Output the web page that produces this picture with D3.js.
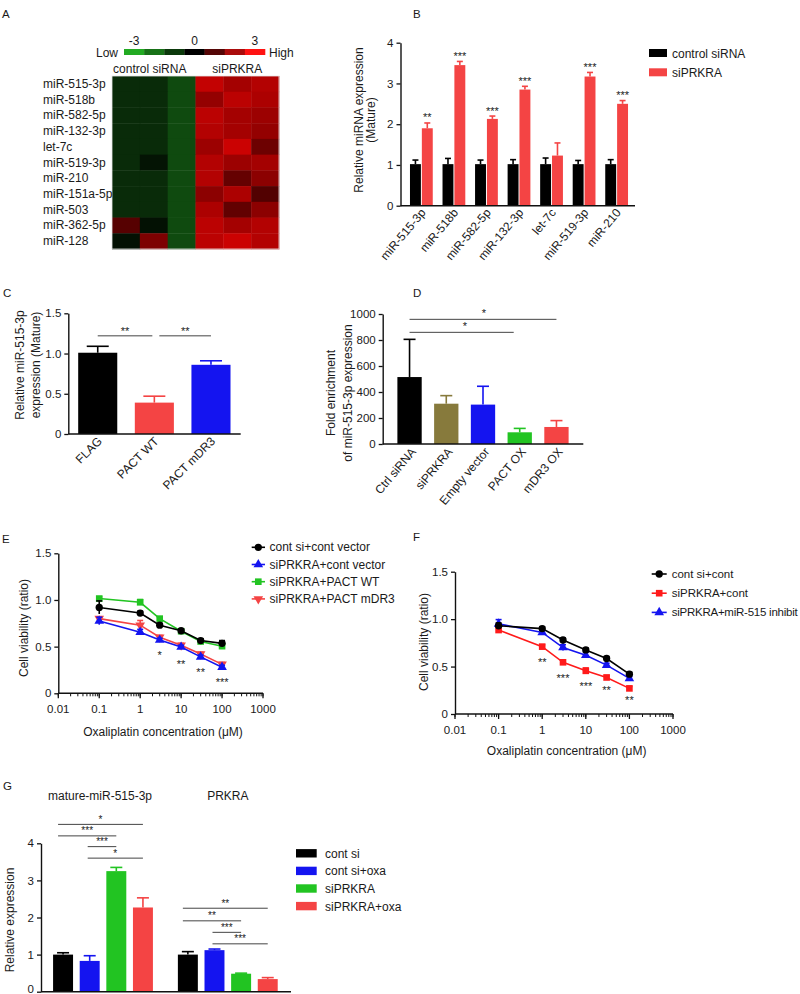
<!DOCTYPE html>
<html><head><meta charset="utf-8">
<script src="https://cdn.jsdelivr.net/npm/d3@7"></script>
<style>
body{margin:0;background:#fff}
text{font-family:"Liberation Sans",Arial,sans-serif;fill:#1a1a1a}
</style>
</head><body>
<svg id="c" width="800" height="994" xmlns="http://www.w3.org/2000/svg"></svg>
<script>
// ---------------- DATA ----------------
// Panel A heatmap
const heatRows = ["miR-515-3p","miR-518b","miR-582-5p","miR-132-3p","let-7c","miR-519-3p","miR-210","miR-151a-5p","miR-503","miR-362-5p","miR-128"];
const heatCols = ["control siRNA 1","control siRNA 2","control siRNA 3","siPRKRA 1","siPRKRA 2","siPRKRA 3"];
const heatValues = [
  [-0.75,-0.75,-1.3, 2.5,2.1,2.3],
  [-0.75,-0.75,-1.3, 1.9,2.4,2.2],
  [-0.75,-0.75,-1.3, 2.4,2.1,2.0],
  [-0.75,-0.75,-1.3, 2.3,2.1,1.9],
  [-0.75,-0.75,-1.3, 2.0,2.6,1.4],
  [-0.75,-0.35,-1.3, 2.3,2.0,2.1],
  [-0.75,-0.75,-1.3, 2.3,1.3,1.8],
  [-0.75,-0.75,-1.3, 1.8,2.2,1.05],
  [-0.75,-0.75,-1.3, 2.2,1.25,1.8],
  [1.1,-0.3,-1.3, 2.4,2.1,2.3],
  [-0.3,1.6,-1.3, 2.4,2.6,2.3]
];
const heatGroups = ["control siRNA","siPRKRA"];
const heatLegendSteps = [-3,-2,-1,0,1,2,3];
const heatLegendLabels = [-3,0,3];

// Panel B
const bCategories = ["miR-515-3p","miR-518b","miR-582-5p","miR-132-3p","let-7c","miR-519-3p","miR-210"];
const bSeries = ["control siRNA","siPRKRA"];
const bControl = [1.02,1.02,1.02,1.02,1.02,1.02,1.02];
const bControlErr = [0.10,0.14,0.10,0.11,0.15,0.09,0.11];
const bSi = [1.90,3.45,2.13,2.85,1.23,3.17,2.50];
const bSiErr = [0.13,0.09,0.07,0.08,0.31,0.10,0.08];
const bStars = ["**","***","***","***","","***","***"];
const bTicks = [0,1,2,3,4];

// Panel C
const cCategories = ["FLAG","PACT WT","PACT mDR3"];
const cValues = [1.01,0.39,0.86];
const cErr = [0.08,0.08,0.05];
const cSig = [{a:"FLAG",b:"PACT WT",y:1.22,label:"**"},{a:"PACT WT",b:"PACT mDR3",y:1.22,label:"**"}];
const cTicks = [0,0.5,1.0,1.5];

// Panel D
const dCategories = ["Ctrl siRNA","siPRKRA","Empty vector","PACT OX","mDR3 OX"];
const dValues = [515,310,303,90,131];
const dErr = [290,62,141,30,49];
const dSig = [{a:"Ctrl siRNA",b:"mDR3 OX",y:959,label:"*"},{a:"Ctrl siRNA",b:"PACT OX",y:859,label:"*"}];
const dTicks = [0,200,400,600,800,1000];

// Panel E
const eDoses = [0.1,1,3,10,30,100];
const eNames = ["cont si+cont vector","siPRKRA+cont vector","siPRKRA+PACT WT","siPRKRA+PACT mDR3"];
const eVals = [
  [0.92,0.86,0.73,0.67,0.565,0.535],
  [0.775,0.655,0.57,0.495,0.39,0.28],
  [1.015,0.975,0.80,0.665,0.555,0.505],
  [0.80,0.73,0.60,0.515,0.42,0.31]
];
const eErrs = [
  [0.07,0.02,0.02,0.02,0.02,0.03],
  [0.04,0.03,0.02,0.02,0.02,0.02],
  [0.02,0.03,0.02,0.02,0.02,0.02],
  [0.02,0.05,0.02,0.02,0.02,0.02]
];
const eStars = [{x:3,y:0.43,label:"*"},{x:10,y:0.34,label:"**"},{x:30,y:0.25,label:"**"},{x:100,y:0.14,label:"***"}];

// Panel F
const fNames = ["cont si+cont","siPRKRA+cont","siPRKRA+miR-515 inhibit"];
const fVals = [
  [0.93,0.90,0.78,0.675,0.585,0.42],
  [0.885,0.71,0.545,0.455,0.385,0.27],
  [0.95,0.86,0.70,0.62,0.515,0.375]
];
const fErrs = [
  [0.03,0.02,0.02,0.02,0.02,0.02],
  [0.03,0.02,0.02,0.03,0.02,0.02],
  [0.045,0.02,0.03,0.03,0.02,0.02]
];
const fStars = [{x:1,y:0.57,label:"**"},{x:3,y:0.40,label:"***"},{x:10,y:0.32,label:"***"},{x:30,y:0.27,label:"**"},{x:100,y:0.165,label:"**"}];
const logTicks = [0.01,0.1,1,10,100,1000];
const logTickLabels = ["0.01","0.1","1","10","100","1000"];
const viabTicks = [0,0.5,1.0,1.5];

// Panel G
const gGroups = ["mature-miR-515-3p","PRKRA"];
const gSeries = ["cont si","cont si+oxa","siPRKRA","siPRKRA+oxa"];
const gValues = [[1.0,0.83,3.25,2.27],[1.0,1.12,0.485,0.34]];
const gErr = [[0.05,0.14,0.10,0.26],[0.08,0.03,0.015,0.04]];
const gSig = [
  {g:0,a:0,b:3,y:4.51,label:"*"},{g:0,a:0,b:2,y:4.20,label:"***"},
  {g:0,a:1,b:2,y:3.91,label:"***"},{g:0,a:1,b:3,y:3.60,label:"*"},
  {g:1,a:0,b:3,y:2.25,label:"**"},{g:1,a:0,b:2,y:1.91,label:"**"},
  {g:1,a:1,b:2,y:1.60,label:"***"},{g:1,a:1,b:3,y:1.29,label:"***"}
];
const gTicks = [0,1,2,3,4];

// ---------------- STYLE ----------------
const BLACK="#000000", RED="#f44444", BLUE="#1414f0", GREEN="#22c422", OLIVE="#877a3c";
const svg = d3.select("#c");
svg.append("rect").attr("width",800).attr("height",994).attr("fill","#fff");
const FS = 11.5;
const fmt1 = d => d===0 ? "0" : d3.format(".1f")(d);

function panelLetter(t,x,y){ svg.append("text").attr("x",x).attr("y",y).attr("font-size",11.5).text(t); }
function styleAxis(g){
  g.selectAll("path.domain").attr("stroke","#111").attr("stroke-width",1.4);
  g.selectAll(".tick line").attr("stroke","#111").attr("stroke-width",1.3);
  g.selectAll(".tick text").attr("font-size",FS).attr("font-family","Liberation Sans, Arial, sans-serif").attr("fill","#1a1a1a");
}
function yAxis(scale,x,ticks,fmt){
  const g = svg.append("g").attr("transform",`translate(${x},0)`)
    .call(d3.axisLeft(scale).tickValues(ticks).tickFormat(fmt).tickSize(4).tickSizeOuter(0).tickPadding(3));
  styleAxis(g); return g;
}
function xLine(x1,x2,y){ svg.append("line").attr("x1",x1).attr("x2",x2).attr("y1",y).attr("y2",y).attr("stroke","#111").attr("stroke-width",1.4); }
function yTitle(lines,x,cy,dx){
  lines.forEach((l,i)=>svg.append("text").attr("transform",`translate(${x+i*dx},${cy}) rotate(-90)`)
    .attr("text-anchor","middle").attr("font-size",12).text(l));
}
function errBar(x,y0,y1,capW,color){
  svg.append("line").attr("x1",x).attr("x2",x).attr("y1",y0).attr("y2",y1).attr("stroke",color).attr("stroke-width",1.6);
  svg.append("line").attr("x1",x-capW/2).attr("x2",x+capW/2).attr("y1",y1).attr("y2",y1).attr("stroke",color).attr("stroke-width",1.6);
}
function star(x,y,label,fs){
  svg.append("text").attr("x",x).attr("y",y).attr("text-anchor","middle").attr("font-size",fs||11).text(label);
}
function rotLabel(x,y,t,angle){
  svg.append("text").attr("transform",`translate(${x},${y}) rotate(${angle})`).attr("text-anchor","end").attr("font-size",12).text(t);
}

// ---------------- PANEL A ----------------
panelLetter("A",2,18);
const hx = d3.scaleBand().domain(heatCols).range([112,279]);
const hy = d3.scaleBand().domain(heatRows).range([76,249]);
const hcolor = d3.scaleLinear().domain([-3,0,3]).range(["#22aa22","#000000","#ff1212"]);
const hcellColor = d3.scaleLinear().domain([-3,0,3]).range(["#22aa22","#000000","#ea0202"]);
heatRows.forEach((r,i)=>heatCols.forEach((c,j)=>{
  svg.append("rect").attr("x",hx(c)).attr("y",hy(r)).attr("width",hx.bandwidth()+0.4).attr("height",hy.bandwidth()+0.4)
    .attr("fill",hcellColor(heatValues[i][j]));
}));
svg.append("rect").attr("x",112).attr("y",76).attr("width",167).attr("height",173).attr("fill","none").attr("stroke","#e6e6e6").attr("stroke-width",0.8);
heatRows.forEach(r=>svg.append("text").attr("x",43).attr("y",hy(r)+hy.bandwidth()/2+4).attr("font-size",12).text(r));
const hg = d3.scaleBand().domain(heatGroups).range([112,279]);
heatGroups.forEach(g=>svg.append("text").attr("x",hg(g)+hg.bandwidth()/2-(g==="control siRNA"?4:0)).attr("y",73).attr("text-anchor","middle").attr("font-size",12).text(g));
const lx = d3.scaleBand().domain(heatLegendSteps).range([124,265]);
heatLegendSteps.forEach(s=>svg.append("rect").attr("x",lx(s)).attr("y",49).attr("width",lx.bandwidth()+0.3).attr("height",6).attr("fill",hcolor(s)));
heatLegendLabels.forEach(s=>svg.append("text").attr("x",lx(s)+lx.bandwidth()/2).attr("y",45).attr("text-anchor","middle").attr("font-size",12).text(s));
svg.append("text").attr("x",118).attr("y",56.5).attr("text-anchor","end").attr("font-size",12).text("Low");
svg.append("text").attr("x",269).attr("y",56.5).attr("font-size",12).text("High");

// ---------------- PANEL B ----------------
panelLetter("B",413,18);
const bx0 = d3.scaleBand().domain(bCategories).range([402,636]).paddingInner(0.3).paddingOuter(0.245);
const bx1 = d3.scaleBand().domain(bSeries).range([0,bx0.bandwidth()]).paddingInner(0.08);
const by = d3.scaleLinear().domain([0,4]).range([205.7,42.7]);
bCategories.forEach((c,i)=>{
  const xs=[bx0(c)+bx1("control siRNA"), bx0(c)+bx1("siPRKRA")];
  const vals=[bControl[i],bSi[i]], errs=[bControlErr[i],bSiErr[i]], cols=[BLACK,RED];
  vals.forEach((v,k)=>{
    svg.append("rect").attr("x",xs[k]).attr("y",by(v)).attr("width",bx1.bandwidth()).attr("height",by(0)-by(v)).attr("fill",cols[k]);
    errBar(xs[k]+bx1.bandwidth()/2,by(v),by(v+errs[k]),6,cols[k]);
  });
  if(bStars[i]) star(xs[1]+bx1.bandwidth()/2,by(bSi[i]+bSiErr[i])-1.5,bStars[i],11);
  rotLabel(bx0(c)+bx0.bandwidth()/2+5,213,c,-50);
});
yAxis(by,400.5,bTicks,d3.format("d"));
xLine(400.5,635,205.7);
yTitle(["Relative miRNA expression","(Mature)"],363,120,12);
bSeries.forEach((s,i)=>{
  svg.append("rect").attr("x",649).attr("y",49+i*19.3).attr("width",18).attr("height",8).attr("fill",[BLACK,RED][i]);
  svg.append("text").attr("x",672).attr("y",57.5+i*19.3).attr("font-size",12).text(s);
});

// ---------------- PANEL C ----------------
panelLetter("C",3,297);
const cx = d3.scaleBand().domain(cCategories).range([68,240.7]).paddingInner(0.31).paddingOuter(0.18);
const cy = d3.scaleLinear().domain([0,1.5]).range([434,313.3]);
const cCols=[BLACK,RED,BLUE];
cCategories.forEach((c,i)=>{
  svg.append("rect").attr("x",cx(c)).attr("y",cy(cValues[i])).attr("width",cx.bandwidth()).attr("height",cy(0)-cy(cValues[i])).attr("fill",cCols[i]);
  errBar(cx(c)+cx.bandwidth()/2,cy(cValues[i]),cy(cValues[i]+cErr[i]),22,cCols[i]);
  rotLabel(cx(c)+cx.bandwidth()/2+5,442,c,-45);
});
cSig.forEach((s,i)=>{
  const x1=cx(s.a)+cx.bandwidth()/2+(i?5:0), x2=cx(s.b)+cx.bandwidth()/2-(i?0:2);
  svg.append("line").attr("x1",x1).attr("x2",x2).attr("y1",cy(s.y)).attr("y2",cy(s.y)).attr("stroke","#444").attr("stroke-width",1);
  star((x1+x2)/2,cy(s.y)-1,s.label,11);
});
yAxis(cy,68.3,cTicks,fmt1);
xLine(68.3,240.7,434);
yTitle(["Relative miR-515-3p","expression (Mature)"],24,365,15.5);

// ---------------- PANEL D ----------------
panelLetter("D",413,297);
const dx = d3.scaleBand().domain(dCategories).range([382.7,583.3]).paddingInner(0.338).paddingOuter(0.4);
const dy = d3.scaleLinear().domain([0,1000]).range([444,314]);
const dCols=[BLACK,OLIVE,BLUE,GREEN,RED];
dCategories.forEach((c,i)=>{
  svg.append("rect").attr("x",dx(c)).attr("y",dy(dValues[i])).attr("width",dx.bandwidth()).attr("height",dy(0)-dy(dValues[i])).attr("fill",dCols[i]);
  errBar(dx(c)+dx.bandwidth()/2,dy(dValues[i]),dy(dValues[i]+dErr[i]),12,dCols[i]);
  rotLabel(dx(c)+dx.bandwidth()/2+7,452,c,-50);
});
dSig.forEach((s,i)=>{
  const x1=dx(s.a)+dx.bandwidth()/2, x2=dx(s.b)+dx.bandwidth()/2-(i?6:0);
  svg.append("line").attr("x1",x1).attr("x2",x2).attr("y1",dy(s.y)).attr("y2",dy(s.y)).attr("stroke","#444").attr("stroke-width",1);
  star(i?465:484,dy(s.y)-2,s.label,11);
});
yAxis(dy,382.7,dTicks,d3.format("d"));
xLine(382.7,583.3,444);
yTitle(["Fold enrichment","of miR-515-3p expression"],335,393,16.5);

// ---------------- LINE PANELS ----------------
const symCircle=d3.symbol().type(d3.symbolCircle).size(42);
const symSquare=d3.symbol().type(d3.symbolSquare).size(44);
const symTri=d3.symbol().type(d3.symbolTriangle).size(40);
function drawMarker(x,y,kind,color){
  const p = kind==="circle"?symCircle():kind==="square"?symSquare():symTri();
  svg.append("path").attr("d",p).attr("fill",color)
    .attr("transform",`translate(${x},${y})${kind==="tridown"?" rotate(180)":""}`);
}
function logAxis(x,y0){
  const g = svg.append("g").attr("transform",`translate(0,${y0})`);
  g.append("line").attr("x1",x.range()[0]).attr("x2",x.range()[1]).attr("stroke","#111").attr("stroke-width",1.4);
  x.ticks().forEach(t=>g.append("line").attr("x1",x(t)).attr("x2",x(t)).attr("y1",0).attr("y2",3).attr("stroke","#111").attr("stroke-width",1));
  logTicks.forEach((t,i)=>{
    g.append("line").attr("x1",x(t)).attr("x2",x(t)).attr("y1",0).attr("y2",5).attr("stroke","#111").attr("stroke-width",1.3);
    g.append("text").attr("x",x(t)).attr("y",20).attr("text-anchor","middle").attr("font-size",FS).text(logTickLabels[i]);
  });
}
function linePanel(x,y,names,vals,errs,colors,kinds,order,stars){
  order.forEach(k=>{
    const pts = eDoses.map((d,j)=>[x(d),y(vals[k][j])]);
    svg.append("path").attr("d",d3.line()(pts)).attr("fill","none").attr("stroke",colors[k]).attr("stroke-width",1.6);
    eDoses.forEach((d,j)=>{
      errBar(x(d),y(vals[k][j]-errs[k][j]),y(vals[k][j]+errs[k][j]),6,colors[k]);
      drawMarker(x(d),y(vals[k][j]),kinds[k],colors[k]);
    });
  });
  stars.forEach(s=>star(x(s.x),y(s.y)+6,s.label,11));
}

// ---------------- PANEL E ----------------
panelLetter("E",2,543);
const ex = d3.scaleLog().domain([0.01,1000]).range([58.3,263]);
const ey = d3.scaleLinear().domain([0,1.5]).range([693.3,553.3]);
const eCols=[BLACK,BLUE,GREEN,RED], eKinds=["circle","tri","square","tridown"];
linePanel(ex,ey,eNames,eVals,eErrs,eCols,eKinds,[2,3,1,0],eStars);
yAxis(ey,58.3,viabTicks,fmt1);
logAxis(ex,693.3);
svg.append("text").attr("x",163).attr("y",736).attr("text-anchor","middle").attr("font-size",12).text("Oxaliplatin concentration (\u03bcM)");
yTitle(["Cell viability (ratio)"],28,628,0);
eNames.forEach((n,i)=>{
  const yy=547.3+i*17.2;
  svg.append("line").attr("x1",251.7).attr("x2",265).attr("y1",yy).attr("y2",yy).attr("stroke",eCols[i]).attr("stroke-width",1.6);
  drawMarker(258.3,yy,eKinds[i],eCols[i]);
  svg.append("text").attr("x",269.5).attr("y",yy+4).attr("font-size",12).text(n);
});

// ---------------- PANEL F ----------------
panelLetter("F",413,541);
const fx = d3.scaleLog().domain([0.01,1000]).range([455,673]);
const fy = d3.scaleLinear().domain([0,1.5]).range([714,571.7]);
const fCols=[BLACK,"#ff1a1a",BLUE], fKinds=["circle","square","tri"];
linePanel(fx,fy,fNames,fVals,fErrs,fCols,fKinds,[1,2,0],fStars);
yAxis(fy,455,viabTicks,fmt1);
logAxis(fx,714);
svg.append("text").attr("x",566.7).attr("y",755).attr("text-anchor","middle").attr("font-size",12).text("Oxaliplatin concentration (\u03bcM)");
yTitle(["Cell viability (ratio)"],428,642,0);
fNames.forEach((n,i)=>{
  const yy=574+i*19.2;
  svg.append("line").attr("x1",651.7).attr("x2",666.7).attr("y1",yy).attr("y2",yy).attr("stroke",fCols[i]).attr("stroke-width",1.6);
  drawMarker(659.2,yy,fKinds[i],fCols[i]);
  svg.append("text").attr("x",671.7).attr("y",yy+4).attr("font-size",11.5).attr("textLength",i===2?126:null).text(n);
});

// ---------------- PANEL G ----------------
panelLetter("G",3,790);
const gx0 = d3.scaleBand().domain(gGroups).range([40.6,290.2]).paddingInner(0.2).paddingOuter(0.1);
const gx1 = d3.scaleBand().domain(gSeries).range([0,gx0.bandwidth()]).paddingInner(0.25);
const gy = d3.scaleLinear().domain([0,4]).range([991.7,843.3]);
const gCols=[BLACK,BLUE,GREEN,RED];
gGroups.forEach((g,gi)=>{
  gSeries.forEach((s,si)=>{
    const x=gx0(g)+gx1(s), v=gValues[gi][si];
    svg.append("rect").attr("x",x).attr("y",gy(v)).attr("width",gx1.bandwidth()).attr("height",gy(0)-gy(v)).attr("fill",gCols[si]);
    errBar(x+gx1.bandwidth()/2,gy(v),gy(v+gErr[gi][si]),12,gCols[si]);
  });
  svg.append("text").attr("x",gx0(g)+gx0.bandwidth()/2-(gi?0:3)).attr("y",800).attr("text-anchor","middle").attr("font-size",12).text(g);
});
gSig.forEach(s=>{
  const g=gGroups[s.g];
  const x1=gx0(g)+gx1(gSeries[s.a])+gx1.bandwidth()/2-(s.a===0?5:2);
  const x2=gx0(g)+gx1(gSeries[s.b])+gx1.bandwidth()/2;
  svg.append("line").attr("x1",x1).attr("x2",x2).attr("y1",gy(s.y)).attr("y2",gy(s.y)).attr("stroke","#444").attr("stroke-width",1);
  star((x1+x2)/2,gy(s.y)-1.5,s.label,10);
});
const gAxis = yAxis(gy,41,gTicks,d3.format("d"));
gAxis.selectAll(".tick text").filter(d=>d===0).attr("dy","0.1em");
xLine(41,291,991.7);
yTitle(["Relative expression"],14,920,0);
gSeries.forEach((s,i)=>{
  const yy=853.3+i*17.6;
  svg.append("rect").attr("x",296).attr("y",yy-4.2).attr("width",20.7).attr("height",8.4).attr("fill",gCols[i]);
  svg.append("text").attr("x",325).attr("y",yy+4.5).attr("font-size",12).text(s);
});
</script>
</body></html>
